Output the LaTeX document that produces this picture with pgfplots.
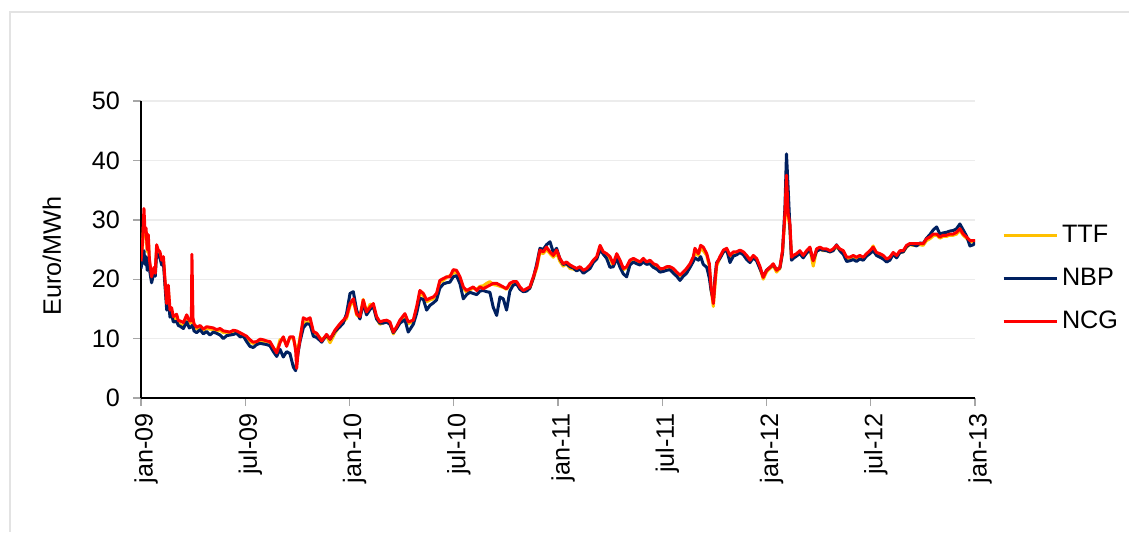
\documentclass[border=0pt]{standalone}
\usepackage{fontspec}
\setmainfont{Liberation Sans}
\usepackage{pgfplots}
\usepackage{pgfplotstable}
\pgfplotsset{compat=1.18}

\definecolor{ttfcol}{HTML}{FFC000}
\definecolor{nbpcol}{HTML}{002060}
\definecolor{ncgcol}{HTML}{FF0000}

% m = months since jan-09, day-ahead gas prices in Euro/MWh
\pgfplotstableread{
m ncg ttf nbp
0.00 23.0 22.8 21.8
0.10 26.6 26.0 23.5
0.17 31.9 30.5 24.8
0.23 28.0 27.2 22.5
0.29 28.6 28.0 23.8
0.36 25.0 24.6 21.5
0.42 27.5 26.8 23.5
0.48 23.5 23.0 21.8
0.61 20.4 19.8 19.4
0.75 22.0 21.6 21.2
0.82 21.0 20.8 20.5
0.90 25.8 25.2 24.5
0.98 25.0 24.6 23.9
1.09 24.6 24.2 23.6
1.19 23.2 22.8 22.4
1.29 23.8 23.3 22.8
1.38 19.9 19.5 19.0
1.48 15.9 15.5 14.8
1.57 19.0 18.2 16.5
1.67 14.8 14.2 13.6
1.76 15.2 14.8 14.2
1.86 13.7 13.2 12.8
2.05 14.1 13.6 12.9
2.15 13.0 12.6 12.2
2.24 13.0 12.4 12.1
2.44 12.7 12.0 11.7
2.63 14.0 13.5 12.8
2.78 13.0 12.6 11.8
2.90 13.0 12.7 12.0
2.93 24.2 12.8 12.2
2.99 13.5 12.5 12.1
3.05 12.5 12.2 11.3
3.20 11.9 11.6 11.0
3.40 12.2 11.9 11.5
3.59 11.6 11.4 10.8
3.78 12.0 11.7 11.2
3.97 11.9 11.6 10.6
4.16 11.8 11.5 11.1
4.35 11.5 11.2 10.9
4.55 11.7 11.4 10.6
4.74 11.3 11.0 10.0
4.93 11.2 11.1 10.5
5.12 11.1 10.8 10.6
5.31 11.4 11.0 10.7
5.50 11.3 11.0 10.9
5.70 11.0 10.6 10.3
5.89 10.7 10.5 10.4
6.08 10.4 10.0 9.5
6.27 9.8 9.4 8.7
6.46 9.4 9.2 8.5
6.66 9.5 9.3 9.0
6.85 9.9 9.6 9.2
7.04 9.8 9.5 9.1
7.23 9.6 9.6 9.0
7.42 9.5 9.3 8.8
7.62 8.5 8.3 7.8
7.81 7.6 7.8 7.0
8.00 9.3 9.8 8.2
8.19 10.3 10.0 6.9
8.38 8.7 8.9 7.8
8.57 10.3 10.2 7.5
8.77 10.3 10.0 5.2
8.90 8.0 8.6 4.6
8.96 5.0 7.8 6.0
9.05 8.0 8.5 7.8
9.15 9.8 10.2 9.5
9.34 13.5 12.8 11.8
9.53 13.2 12.6 12.5
9.73 13.5 13.0 12.4
9.92 11.2 11.0 10.4
10.11 10.9 10.8 10.2
10.40 9.6 9.8 9.4
10.68 10.7 10.4 10.6
10.88 9.9 9.3 9.9
11.16 11.4 10.9 11.2
11.45 12.5 12.2 12.0
11.64 13.1 12.8 12.6
11.83 13.7 13.4 14.2
12.03 15.9 15.5 17.6
12.22 16.7 16.4 17.9
12.41 14.2 14.0 14.8
12.60 13.7 13.5 13.3
12.79 16.5 16.6 16.0
12.98 14.5 14.3 14.0
13.18 15.3 15.8 14.9
13.37 15.9 15.6 15.4
13.56 13.7 13.4 13.3
13.75 12.8 12.4 12.6
13.94 13.0 12.7 12.6
14.14 13.1 12.8 12.8
14.33 12.8 12.5 12.4
14.52 11.1 10.8 11.0
14.71 12.0 11.8 11.7
14.90 13.1 12.8 12.6
15.19 14.2 14.0 13.2
15.38 12.8 12.5 11.1
15.67 13.1 12.9 12.4
15.86 15.3 15.0 14.2
16.05 18.1 17.6 16.8
16.25 17.6 17.2 16.6
16.44 16.5 16.2 14.8
16.63 16.8 16.5 15.6
16.82 17.0 16.7 16.0
17.01 17.6 17.4 16.5
17.20 19.8 19.5 18.5
17.40 20.1 19.8 19.2
17.59 20.4 20.3 19.4
17.78 20.4 20.6 19.5
17.97 21.6 21.0 20.4
18.16 21.5 21.2 20.6
18.36 20.4 20.1 19.2
18.55 18.7 18.5 16.7
18.74 18.1 17.8 17.4
18.93 18.4 18.2 17.8
19.12 18.7 18.5 17.6
19.32 18.1 18.3 17.4
19.51 18.7 18.8 18.0
19.70 18.4 18.9 18.1
19.89 18.7 19.3 17.9
20.08 19.0 19.6 17.8
20.27 19.3 19.1 15.3
20.47 19.3 19.0 13.9
20.66 19.0 18.8 17.0
20.85 18.7 18.6 16.7
21.04 18.4 18.3 14.8
21.23 19.3 19.0 18.0
21.42 19.6 19.4 19.0
21.62 19.6 19.3 19.2
21.81 18.7 18.4 18.3
22.00 18.1 18.0 17.9
22.19 18.4 18.2 18.0
22.38 18.7 18.5 18.5
22.58 20.4 20.1 20.2
22.77 22.1 21.8 22.5
22.96 24.9 24.5 25.2
23.15 24.6 24.3 25.0
23.34 25.4 25.0 25.8
23.54 24.6 24.3 26.3
23.73 24.0 23.7 24.5
23.92 24.9 24.4 25.2
24.11 23.5 23.0 23.4
24.30 22.6 22.2 22.5
24.49 22.9 22.6 22.6
24.69 22.4 21.8 22.1
24.88 22.1 21.7 21.9
25.07 21.8 21.5 21.4
25.27 22.1 21.8 21.7
25.46 21.5 21.2 21.0
25.65 21.8 21.5 21.4
25.84 22.4 22.1 21.8
26.03 23.2 23.0 22.8
26.23 23.8 23.6 23.4
26.42 25.7 25.0 25.0
26.61 24.6 24.4 24.2
26.80 24.3 24.1 23.5
26.99 23.8 23.5 22.0
27.18 22.6 22.3 22.1
27.38 24.3 24.0 23.5
27.57 23.2 22.9 22.0
27.76 21.8 21.6 20.9
27.95 22.1 21.9 20.4
28.14 23.2 23.0 22.4
28.34 23.5 23.3 22.9
28.53 23.2 23.0 22.6
28.72 22.9 22.6 22.4
28.91 23.5 23.1 22.9
29.10 22.9 22.7 22.5
29.29 23.2 23.0 22.6
29.49 22.6 22.3 22.0
29.68 22.4 22.1 21.7
29.87 21.8 21.6 21.2
30.06 21.8 21.5 21.3
30.25 22.1 21.9 21.5
30.45 22.1 21.7 21.6
30.64 21.8 21.6 21.0
30.83 21.2 21.0 20.5
31.02 20.7 20.6 19.8
31.21 21.2 21.0 20.5
31.40 21.8 21.6 21.0
31.60 22.6 22.3 22.0
31.79 23.8 23.6 23.0
31.88 25.2 24.4 23.6
32.08 24.3 24.0 23.2
32.21 25.7 25.2 23.8
32.36 25.4 24.8 22.5
32.56 24.3 24.0 22.0
32.71 22.6 22.2 20.2
32.81 18.7 18.3 18.1
32.94 15.9 15.4 16.5
33.04 19.8 19.0 20.5
33.13 22.6 22.2 22.8
33.32 23.8 23.6 23.5
33.52 24.9 24.6 24.6
33.71 25.2 24.9 24.9
33.90 24.0 23.8 22.8
34.09 24.6 24.4 23.9
34.28 24.6 24.3 24.1
34.47 24.9 24.6 24.5
34.67 24.6 24.3 24.1
34.86 24.0 23.9 23.3
35.05 23.2 23.4 22.8
35.24 24.0 23.8 23.6
35.43 23.5 23.3 23.1
35.63 22.1 21.8 21.7
35.81 20.3 20.0 20.5
36.00 21.5 21.2 21.5
36.20 22.0 21.8 22.0
36.39 22.6 22.3 22.4
36.58 21.5 21.2 21.6
36.77 22.0 21.8 21.9
36.92 24.8 24.5 24.4
37.06 31.0 30.2 32.0
37.15 37.5 36.5 41.1
37.25 31.0 30.5 35.0
37.35 29.3 28.5 28.5
37.44 23.7 23.4 23.2
37.54 24.0 23.7 23.5
37.73 24.3 24.0 23.9
37.92 24.8 24.5 24.3
38.11 24.0 23.8 23.6
38.31 24.8 24.5 24.4
38.50 25.4 25.0 25.0
38.69 23.1 22.2 23.2
38.88 25.1 24.8 24.7
39.07 25.4 25.1 25.0
39.26 25.1 24.8 24.9
39.46 25.1 24.8 24.8
39.65 24.8 24.6 24.6
39.84 25.1 24.9 24.8
40.03 25.7 25.4 25.8
40.22 25.1 24.9 24.8
40.42 24.8 24.5 24.2
40.61 23.7 23.5 23.0
40.80 23.7 23.4 23.1
40.99 24.0 23.8 23.3
41.18 23.7 23.5 23.0
41.37 24.0 23.8 23.4
41.57 23.7 23.5 23.2
41.76 24.3 24.1 23.9
41.95 24.8 24.6 24.3
42.14 25.4 25.6 24.8
42.33 24.5 24.3 24.0
42.53 24.3 24.1 23.7
42.72 24.0 23.8 23.4
42.91 23.4 23.1 22.9
43.10 23.7 23.5 23.2
43.29 24.5 24.2 24.2
43.49 24.0 23.8 23.6
43.68 24.8 24.5 24.5
43.87 24.8 24.6 24.6
44.06 25.7 25.4 25.5
44.25 26.0 25.8 25.9
44.44 26.0 25.7 25.8
44.64 26.0 25.8 25.6
44.83 26.0 25.8 26.1
45.02 26.0 25.7 26.0
45.21 26.8 26.5 26.9
45.40 27.1 26.8 27.5
45.60 27.6 27.3 28.3
45.79 27.6 27.4 28.8
45.98 27.1 26.9 27.6
46.17 27.4 27.2 27.8
46.36 27.4 27.2 27.9
46.55 27.6 27.4 28.1
46.75 27.6 27.4 28.2
46.94 27.9 27.6 28.5
47.13 28.5 28.2 29.3
47.32 27.6 27.4 28.3
47.51 27.1 26.9 27.3
47.71 26.5 26.3 25.6
47.90 26.5 26.3 25.8
48.00 26.5 26.6 26.2
}\gasprices

\begin{document}
\begin{tikzpicture}
  \path[use as bounding box] (0,0) rectangle (564.5pt,266pt);
  \draw[gray!22, line width=1pt] (4.75pt,0) -- (4.75pt,260pt) -- (564.5pt,260pt);
  \begin{axis}[
    at={(70.5pt,67pt)}, anchor=south west,
    scale only axis, width=417pt, height=148.5pt,
    xmin=0, xmax=48, ymin=0, ymax=50,
    xtick={0,6,...,48},
    xticklabels={jan-09,jul-09,jan-10,jul-10,jan-11,jul-11,jan-12,jul-12,jan-13},
    ytick={0,10,...,50},
    axis x line*=bottom, axis y line*=left,
    axis line style={-, black, line width=0.7pt},
    tick align=outside, major tick length=4pt,
    tick style={gray!70, line width=0.7pt},
    ymajorgrids, grid style={gray!15, line width=0.7pt},
    xticklabel style={rotate=90, anchor=east, yshift=-2.5pt},
    yticklabel style={xshift=-3pt},
    ylabel={Euro/MWh},
    ylabel style={at={(axis description cs:-0.107,0.478)}, anchor=center},
    font=\fontsize{12.6}{15}\selectfont,
    /pgf/number format/assume math mode=true,
    legend style={draw=none, fill=none, inner sep=0pt,
      at={(axis description cs:1.0324,0.596)}, anchor=north west,
      row sep=7.3pt, font=\fontsize{12.6}{15}\selectfont},
    legend cell align=left,
    legend image code/.code={\draw[#1, line width=1.3pt] (0pt,0pt) -- (26.5pt,0pt);},
    every axis plot/.append style={line width=1.5pt, line join=round},
  ]
    \addplot[ttfcol] table[x=m, y=ttf] {\gasprices};
    \addplot[nbpcol] table[x=m, y=nbp] {\gasprices};
    \addplot[ncgcol] table[x=m, y=ncg] {\gasprices};
    \legend{TTF, NBP, NCG}
  \end{axis}
\end{tikzpicture}
\end{document}
